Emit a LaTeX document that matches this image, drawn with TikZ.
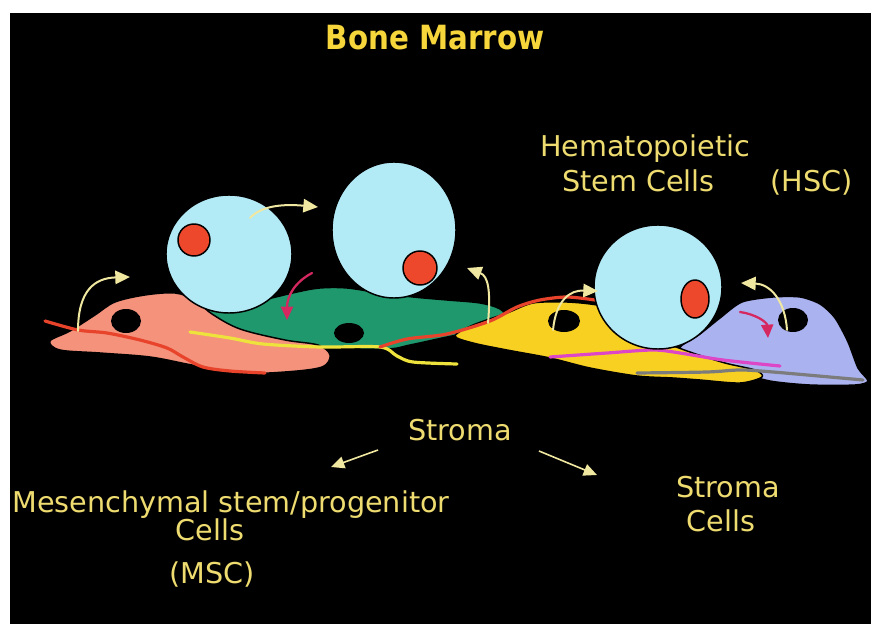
\documentclass[tikz,border=0pt]{standalone}
\usepackage{fontspec}
\setmainfont{DejaVu Sans}
\usetikzlibrary{arrows.meta}

\definecolor{hscfill}{RGB}{178,234,246}
\definecolor{nucred}{RGB}{238,72,44}
\definecolor{pinkcell}{RGB}{244,146,124}
\definecolor{greencell}{RGB}{32,152,110}
\definecolor{yellowcell}{RGB}{248,208,34}
\definecolor{lavcell}{RGB}{170,178,240}
\definecolor{titleyel}{RGB}{246,214,58}
\definecolor{labelyel}{RGB}{238,220,112}
\definecolor{arrowyel}{RGB}{240,232,160}
\definecolor{fibred}{RGB}{232,68,44}
\definecolor{fibyel}{RGB}{238,226,60}
\definecolor{fibmag}{RGB}{222,70,200}
\definecolor{fibgray}{RGB}{124,124,124}
\definecolor{arrowmag}{RGB}{214,40,96}

\begin{document}
\begin{tikzpicture}[x=0.75pt,y=-0.75pt,
  cellshape/.style={draw=black, line width=1.1pt, line join=round},
  hsc/.style={draw=black, line width=1.1pt, fill=hscfill},
  nucleus/.style={draw=black, line width=1.1pt, fill=nucred},
  hole/.style={fill=black},
  fibre/.style={line width=2.4pt, line cap=round, line join=round},
  moveto/.style={draw=arrowyel, line width=1.5pt, line cap=round,
    -{Triangle[length=11pt,width=10pt]}},
  movemag/.style={draw=arrowmag, line width=1.7pt, line cap=round,
    -{Triangle[length=10pt,width=9pt]}},
  pointer/.style={draw=arrowyel, line width=1.2pt,
    -{Triangle[length=10pt,width=9pt]}},
  lbl/.style={text=labelyel, font=\fontsize{21.5}{26}\selectfont, inner sep=0pt},
]
\useasboundingbox (0,0) rectangle (871,624);
\fill[white] (0,0) rectangle (871,624);
\fill[black] (10,13) rectangle (871,624);

% ---- stromal cells ----
% green cell (behind the pink one)
\draw[cellshape, fill=greencell] plot[smooth cycle, tension=0.55] coordinates {
  (200,313) (230,306) (267,299) (297,292) (320,288) (347,288) (380,293)
  (413,297) (447,300) (480,303) (500,309) (505,318) (490,328) (447,337)
  (410,345) (387,349) (330,348) (300,344) (260,338) (225,328)};
% pink cell
\draw[cellshape, fill=pinkcell] plot[smooth cycle, tension=0.55] coordinates {
  (50,341) (70,331) (95,315) (115,302) (145,295) (175,293) (195,300)
  (212,314) (240,329) (285,340) (318,345) (330,355) (322,367) (285,372)
  (240,373) (192,365) (150,357) (100,353) (60,350)};
% lavender cell
\draw[cellshape, fill=lavcell] plot[smooth cycle, tension=0.45] coordinates {
  (680,348) (700,334) (720,318) (742,302) (773,297) (800,297) (820,304)
  (835,318) (848,342) (858,368) (868,381) (855,385) (810,385) (770,381)
  (735,371) (700,359)};
% yellow cell
\draw[cellshape, fill=yellowcell] plot[smooth cycle, tension=0.5] coordinates {
  (455,336) (473,325) (507,313) (533,303) (567,302) (597,305) (617,311)
  (640,327) (662,341) (690,352) (725,363) (755,370) (762,377) (740,383)
  (700,380) (673,378) (637,376) (590,368) (550,358) (507,350) (473,343)};

% nuclei of the stromal cells
\fill[hole] (126,321) ellipse [x radius=15, y radius=12];
\fill[hole] (349,333) ellipse [x radius=15, y radius=10];
\fill[hole] (564,321) ellipse [x radius=16, y radius=11];
\fill[hole] (793,320) ellipse [x radius=15, y radius=12];

% fibres running through the stroma
\draw[fibre, fibred] plot[smooth, tension=0.5] coordinates {
  (45,321) (78,330) (107,333) (140,340) (167,348) (183,357) (203,367)
  (230,371) (265,373)};
\draw[fibre, fibyel] plot[smooth, tension=0.5] coordinates {
  (190,332) (230,338) (263,344) (320,347) (380,347) (397,356) (413,362)
  (457,364)};
\draw[fibre, fibred] plot[smooth, tension=0.5] coordinates {
  (380,347) (407,339) (447,334) (490,321) (517,307) (540,300) (567,297)
  (595,300)};
\draw[fibre, fibmag] plot[smooth, tension=0.5] coordinates {
  (550,357) (607,353) (653,350) (680,353) (723,360) (780,366)};
\draw[fibre, fibgray] plot[smooth, tension=0.5] coordinates {
  (637,373) (707,372) (740,370) (773,372) (863,380)};

% ---- hematopoietic stem cells ----
\draw[hsc] (229,254) ellipse [x radius=63, y radius=59];
\draw[nucleus] (194,240) circle [radius=16];
\draw[hsc] (394,230) ellipse [x radius=62, y radius=68];
\draw[nucleus] (420,268) circle [radius=17];
\draw[hsc] (658,287) ellipse [x radius=64, y radius=62];
\draw[nucleus] (695,299) ellipse [x radius=14, y radius=19];

% ---- movement arrows ----
\draw[moveto] (78,331) .. controls (78,290) and (95,278) .. (130,277);
\draw[moveto] (250,218) .. controls (262,205) and (285,204) .. (318,207);
\draw[movemag] (312,273) .. controls (295,282) and (287,296) .. (287,320);
\draw[moveto] (488,323) .. controls (491,290) and (488,276) .. (467,268);
\draw[moveto] (553,330) .. controls (556,300) and (570,290) .. (598,291);
\draw[moveto] (787,330) .. controls (785,300) and (770,284) .. (741,283);
\draw[movemag] (740,312) .. controls (755,314) and (767,322) .. (768,338);

% ---- labels ----
\node[text=titleyel, inner sep=0pt, anchor=base,
  font=\bfseries\fontsize{25}{30}\selectfont] (title) at (435,50)
  {\scalebox{0.88}[1]{Bone Marrow}};
\node[lbl, anchor=base west] (hema) at (540,157) {Hematopoietic};
\node[lbl, anchor=base west] (stemcells) at (562,192) {Stem Cells};
\node[lbl, anchor=base west] (hsc) at (770,192) {(HSC)};
\node[lbl, anchor=base] (stroma) at (460,440) {Stroma};
\node[lbl, anchor=base west] (msc1) at (12,512) {Mesenchymal stem/progenitor};
\node[lbl, anchor=base] (msc2) at (210,540) {Cells};
\node[lbl, anchor=base] (msc3) at (212,583) {(MSC)};
\node[lbl, anchor=base] (sc1) at (728,497) {Stroma};
\node[lbl, anchor=base] (sc2) at (721,531) {Cells};

\coordinate (lfrom) at (378,450);
\coordinate (lto) at (331,467);
\coordinate (rfrom) at (539,451);
\coordinate (rto) at (597,475);
\draw[pointer] (lfrom) -- (lto);
\draw[pointer] (rfrom) -- (rto);
\end{tikzpicture}
\end{document}
